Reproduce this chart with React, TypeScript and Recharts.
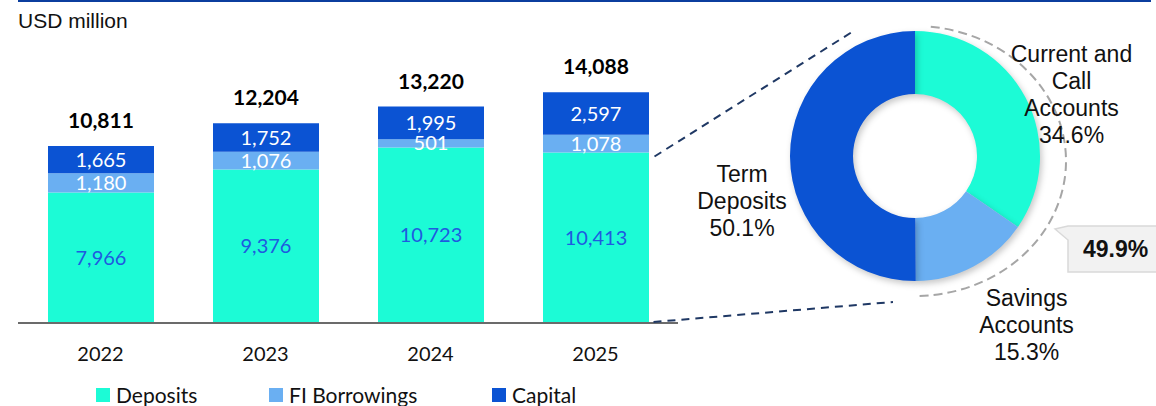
import React from 'react';
import { BarChart, Bar, XAxis, YAxis, LabelList, Legend, PieChart, Pie, Cell } from 'recharts';

const years = ['2022', '2023', '2024', '2025'];
const deposits = [7966, 9376, 10723, 10413];
const fiBorrowings = [1180, 1076, 501, 1078];
const capital = [1665, 1752, 1995, 2597];
const totals = [10811, 12204, 13220, 14088];
const seriesNames = ['Deposits', 'FI Borrowings', 'Capital'];

const pieNames = ['Current and Call Accounts', 'Savings Accounts', 'Term Deposits'];
const pieLabelLines = [['Current and', 'Call', 'Accounts'], ['Savings', 'Accounts'], ['Term', 'Deposits']];
const pieValues = [34.6, 15.3, 50.1];

const C_DEP = '#1cfbd6';
const C_FI = '#6aaff2';
const C_CAP = '#0b53d3';
const seriesColors = [C_DEP, C_FI, C_CAP];
const pieColors = [C_DEP, C_FI, C_CAP];

const BAR_FONT = 'Lato, "Open Sans", sans-serif';
const ARIAL = '"Liberation Sans", Arial, sans-serif';

const barData = years.map((y, i) => ({
  year: y,
  deposits: deposits[i],
  fi: fiBorrowings[i],
  capital: capital[i],
  total: totals[i],
}));
const pieData = pieNames.map((n, i) => ({ name: n, value: pieValues[i] }));

// layout
const CHART_H = 406;
const BAR_W = 700;
const M_TOP = 61;
const M_LEFT = 18;
const M_RIGHT = 22;
const XAXIS_H = 53;
const LEGEND_H = 30;
const Y_MAX = 16000;
const plotBottom = CHART_H - XAXIS_H - LEGEND_H;
const plotH = plotBottom - M_TOP;
const band = (BAR_W - M_LEFT - M_RIGHT) / years.length;
const BAR_SIZE = 106;
const legendItemLeft = [96, 269, 492];

const PIE_LEFT = 690;
const PIE_CX = 225;
const PIE_CY = 156;
const OUTER_R = 125;
const INNER_R = 62;
const pieCxAbs = PIE_LEFT + PIE_CX;

const fmt = (v: any) => Number(v).toLocaleString('en-US');

const labelNudges = [
  [6, 18],
  [32, 19],
  [-3, 44],
];

const renderPieLabel = (props: any) => {
  const { cx, cy, midAngle, index, value } = props;
  const RAD = Math.PI / 180;
  const r = 170;
  const x = cx + r * Math.cos(-midAngle * RAD) + labelNudges[index][0];
  const yc = cy + r * Math.sin(-midAngle * RAD) + labelNudges[index][1];
  const lines = [...pieLabelLines[index], `${Number(value).toFixed(1)}%`];
  const lh = 27;
  const y0 = yc - ((lines.length - 1) * lh) / 2 + 8;
  return (
    <text x={x} y={y0} textAnchor="middle" fontFamily={ARIAL} fontSize={23} fill="#111">
      {lines.map((l, i) => (
        <tspan key={i} x={x} dy={i === 0 ? 0 : lh}>
          {l}
        </tspan>
      ))}
    </text>
  );
};

const LegendContent = () => (
  <div style={{ position: 'relative', height: LEGEND_H, width: BAR_W, fontFamily: BAR_FONT, fontSize: 21, color: '#111' }}>
    {seriesNames.map((n, i) => (
      <div key={n} style={{ position: 'absolute', left: legendItemLeft[i], top: 6, display: 'flex', alignItems: 'flex-start', lineHeight: '25px', height: 25, whiteSpace: 'nowrap' }}>
        <span style={{ display: 'inline-block', width: 14, height: 14, background: seriesColors[i], marginRight: 6, marginTop: 6 }} />
        <span>{n}</span>
      </div>
    ))}
  </div>
);

export default function App() {
  const depTop2025 = plotBottom - (deposits[3] / Y_MAX) * plotH;
  const barRight2025 = M_LEFT + band * 3.5 + BAR_SIZE / 2;
  const curSav = pieValues[0] + pieValues[1];

  // dashed ellipse arc around current+savings
  const ax = pieCxAbs, ay = 161, rx = 151, ry = 135;
  const startA = 6 * Math.PI / 180;
  const endA = (curSav / 100) * 360 * Math.PI / 180;
  const sx = ax + rx * Math.sin(startA), sy = ay - ry * Math.cos(startA);
  const ex = ax + rx * Math.sin(endA), ey = ay - ry * Math.cos(endA);

  return (
    <div style={{ position: 'absolute', left: 0, top: 0, width: 1156, height: 406, background: '#fff', overflow: 'hidden' }}>
      <style>{`.donut path.recharts-sector { filter: drop-shadow(2px 3px 3px rgba(0,0,0,0.22)); }`}</style>
      <div style={{ position: 'absolute', left: 0, top: 0 }}>
        <BarChart width={BAR_W} height={CHART_H} data={barData} margin={{ top: M_TOP, right: M_RIGHT, left: M_LEFT, bottom: 0 }}>
          <XAxis
            dataKey="year"
            height={XAXIS_H}
            tickLine={false}
            tickMargin={18}
            axisLine={{ stroke: '#6b6b6b', strokeWidth: 2 }}
            tick={{ fontSize: 20, fill: '#111', fontFamily: BAR_FONT }}
          />
          <YAxis hide domain={[0, Y_MAX]} />
          <Legend verticalAlign="bottom" align="left" wrapperStyle={{ left: 0, width: BAR_W }} content={LegendContent} />
          <Bar dataKey="deposits" name={seriesNames[0]} stackId="a" fill={C_DEP} barSize={BAR_SIZE} isAnimationActive={false}>
            <LabelList dataKey="deposits" position="center" formatter={fmt} fill="#1f5ae0" fontSize={20} fontFamily={BAR_FONT} />
          </Bar>
          <Bar dataKey="fi" name={seriesNames[1]} stackId="a" fill={C_FI} barSize={BAR_SIZE} isAnimationActive={false}>
            <LabelList dataKey="fi" position="center" formatter={fmt} fill="#ffffff" fontSize={20} fontFamily={BAR_FONT} />
          </Bar>
          <Bar dataKey="capital" name={seriesNames[2]} stackId="a" fill={C_CAP} barSize={BAR_SIZE} isAnimationActive={false}>
            <LabelList dataKey="capital" position="center" formatter={fmt} fill="#ffffff" fontSize={20} fontFamily={BAR_FONT} />
            <LabelList dataKey="total" position="top" offset={18} formatter={fmt} fill="#000" fontSize={21} fontWeight="bold" fontFamily={BAR_FONT} />
          </Bar>
        </BarChart>
      </div>

      <svg width={1156} height={406} style={{ position: 'absolute', left: 0, top: 0, pointerEvents: 'none' }}>
        <rect x={18} y={0} width={1133} height={2} fill="#0b3e9e" />
        <text x={18} y={28} fontFamily={ARIAL} fontSize={21} fill="#111">USD million</text>
        <line x1={barRight2025 + 6} y1={depTop2025 + 4} x2={pieCxAbs - 63} y2={PIE_CY - 124} stroke="#1f3864" strokeWidth={2} strokeDasharray="8 6" />
        <line x1={barRight2025 + 5} y1={plotBottom - 1} x2={pieCxAbs - 22} y2={PIE_CY + 146} stroke="#1f3864" strokeWidth={2} strokeDasharray="8 6" />
        <path d={`M ${sx} ${sy} A ${rx} ${ry} 0 0 1 ${ex} ${ey}`} fill="none" stroke="#a6a6a6" strokeWidth={2} strokeDasharray="9 5" />
        <path d="M 1055 229 L 1068 226 H 1160 V 272 H 1068 V 240 Z" fill="#f2f2f2" stroke="#d9d9d9" strokeWidth={1.5} />
        <text x={1083} y={257} fontFamily={ARIAL} fontSize={23} fontWeight="bold" fill="#111">{`${curSav.toFixed(1)}%`}</text>
      </svg>

      <div className="donut" style={{ position: 'absolute', left: PIE_LEFT, top: 0 }}>
        <PieChart width={466} height={406} margin={{ top: 0, right: 0, bottom: 0, left: 0 }}>
          <Pie
            data={pieData}
            dataKey="value"
            nameKey="name"
            cx={PIE_CX}
            cy={PIE_CY}
            innerRadius={INNER_R}
            outerRadius={OUTER_R}
            startAngle={90}
            endAngle={-270}
            stroke="none"
            label={renderPieLabel}
            labelLine={false}
            isAnimationActive={false}
          >
            {pieData.map((d, i) => (
              <Cell key={d.name} fill={pieColors[i]} />
            ))}
          </Pie>
        </PieChart>
      </div>
    </div>
  );
}
